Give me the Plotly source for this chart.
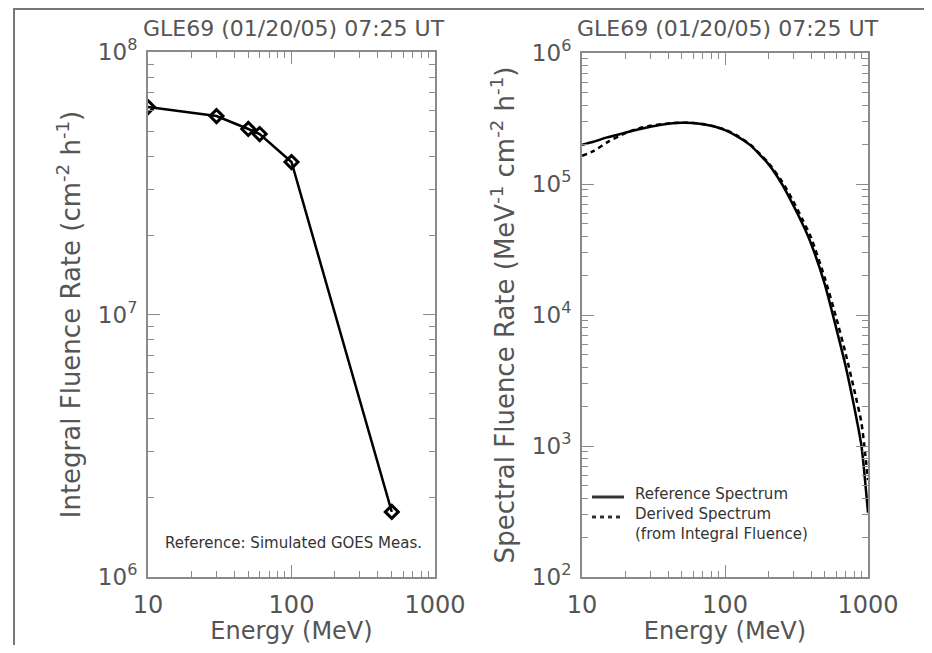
import plotly.graph_objects as go

# ---------------- data ----------------
goes_energy = [10, 30, 50, 60, 100, 500]                      # MeV
integral_rate = [6.17e7, 5.7e7, 5.09e7, 4.87e7, 3.81e7, 1.77e6]  # cm^-2 h^-1

spec_energy = [10, 12, 15, 20, 25, 30, 40, 50, 60, 70, 80, 100, 120, 150,
               200, 250, 300, 350, 400, 500, 600, 700, 800, 900, 1000]
reference_spectrum = [1.99e5, 2.10e5, 2.27e5, 2.46e5, 2.62e5, 2.74e5, 2.88e5,
                      2.93e5, 2.92e5, 2.86e5, 2.78e5, 2.58e5, 2.33e5, 1.98e5,
                      1.43e5, 1.0e5, 6.9e4, 4.9e4, 3.5e4, 1.7e4, 7.9e3, 4.0e3,
                      2.0e3, 1.0e3, 3.1e2]
derived_spectrum = [1.64e5, 1.78e5, 2.08e5, 2.44e5, 2.66e5, 2.78e5, 2.90e5,
                    2.94e5, 2.92e5, 2.87e5, 2.79e5, 2.60e5, 2.36e5, 2.00e5,
                    1.46e5, 1.05e5, 7.4e4, 5.3e4, 3.9e4, 1.9e4, 9.5e3, 5.0e3,
                    2.7e3, 1.5e3, 5.5e2]

title_text = "GLE69 (01/20/05) 07:25 UT"
x_ticks = [10, 100, 1000]
x_ticktext = ["10", "100", "1000"]
left_yticks = [1e6, 1e7, 1e8]
left_yticktext = ["10<sup>6</sup>", "10<sup>7</sup>", "10<sup>8</sup>"]
right_yticks = [1e2, 1e3, 1e4, 1e5, 1e6]
right_yticktext = ["10<sup>2</sup>", "10<sup>3</sup>", "10<sup>4</sup>",
                   "10<sup>5</sup>", "10<sup>6</sup>"]

# ---------------- layout constants ----------------
OFF = 8               # browser body margin
W, H = 932 - OFF, 653 - 2 * OFF
FONT = "DejaVu Sans"
TXT = "#555555"
AX = "#8a8a8a"

def px(x):
    return (x - OFF) / W

def py(y):
    return 1 - (y - OFF) / H

fig = go.Figure()

fig.add_trace(go.Scatter(
    x=goes_energy, y=integral_rate, mode="lines+markers",
    line=dict(color="black", width=2.5),
    marker=dict(symbol="diamond-open", size=10, color="black", line=dict(width=3, color="black")),
    xaxis="x", yaxis="y", showlegend=False, name="Simulated GOES"))

fig.add_trace(go.Scatter(
    x=spec_energy, y=reference_spectrum, mode="lines",
    line=dict(color="black", width=2.5, shape="spline", smoothing=0.6),
    xaxis="x2", yaxis="y2", showlegend=False, name="Reference Spectrum"))

fig.add_trace(go.Scatter(
    x=spec_energy, y=derived_spectrum, mode="lines",
    line=dict(color="black", width=2.5, dash="5px,4px", shape="spline", smoothing=0.6),
    xaxis="x2", yaxis="y2", showlegend=False, name="Derived Spectrum"))

common_x = dict(type="log", tickvals=x_ticks, ticktext=x_ticktext, automargin=False,
                ticks="inside", ticklen=12, tickwidth=1, tickcolor=AX,
                showline=True, linecolor=AX, linewidth=2, mirror="allticks",
                showgrid=False, zeroline=False,
                tickfont=dict(family=FONT, size=24, color=TXT),
                minor=dict(ticks="inside", ticklen=6, tickcolor=AX, tickwidth=1,
                           showgrid=False, dtick="D1"),
                ticklabelstandoff=5,
                title=dict(text="Energy (MeV)", font=dict(family=FONT, size=24, color=TXT), standoff=2))

common_y = dict(type="log", ticks="inside", ticklen=12, tickwidth=1, tickcolor=AX, automargin=False,
                showline=True, linecolor=AX, linewidth=2, mirror="allticks",
                showgrid=False, zeroline=False,
                tickfont=dict(family=FONT, size=23, color=TXT),
                minor=dict(ticks="inside", ticklen=6, tickcolor=AX, tickwidth=1,
                           showgrid=False, dtick="D1"),
                ticklabelstandoff=4)

fig.update_layout(
    width=W, height=H,
    margin=dict(l=0, r=0, t=0, b=0, autoexpand=False),
    paper_bgcolor="white", plot_bgcolor="white",
    xaxis=dict(common_x, domain=[px(148), px(435)], range=[1, 3], anchor="y"),
    yaxis=dict(common_y, domain=[py(577), py(52)], range=[6, 8], anchor="x",
               tickvals=left_yticks, ticktext=left_yticktext,
               title=dict(text="Integral Fluence Rate (cm<sup>-2</sup> h<sup>-1</sup>)",
                          font=dict(family=FONT, size=26, color=TXT), standoff=10)),
    xaxis2=dict(common_x, domain=[px(582), px(868)], range=[1, 3], anchor="y2"),
    yaxis2=dict(common_y, domain=[py(577), py(53)], range=[2, 6], anchor="x2",
                tickvals=right_yticks, ticktext=right_yticktext,
                title=dict(text="Spectral Fluence Rate (MeV<sup>-1</sup> cm<sup>-2</sup> h<sup>-1</sup>)",
                           font=dict(family=FONT, size=26, color=TXT), standoff=10)),
    showlegend=False,
)

def ann(text, x, y, size, color, xanchor="center"):
    return dict(text=text, x=px(x), y=py(y), xref="paper", yref="paper",
                xanchor=xanchor, yanchor="middle", showarrow=False,
                font=dict(family=FONT, size=size, color=color))

annotations = [
    ann(title_text, 294, 29, 22, TXT),
    ann(title_text, 728, 29, 22, TXT),
    ann("Reference: Simulated GOES Meas.", 293, 543, 15, "#333333"),
    ann("Reference Spectrum", 633, 494, 15, "#333333", "left"),
    ann("Derived Spectrum", 633, 514, 15, "#333333", "left"),
    ann("(from Integral Fluence)", 633, 534, 15, "#333333", "left"),
]
fig.update_layout(annotations=annotations)

shapes = [
    # outer frame
    dict(type="rect", xref="paper", yref="paper", x0=px(14), x1=px(927), y0=-0.05, y1=1 - 1 / H,
         line=dict(color="#777777", width=2), fillcolor="rgba(0,0,0,0)", layer="below"),
    # legend samples
    dict(type="line", xref="paper", yref="paper", x0=px(592), x1=px(624), y0=py(497), y1=py(497),
         line=dict(color="#333333", width=3)),
    dict(type="line", xref="paper", yref="paper", x0=px(592), x1=px(624), y0=py(517), y1=py(517),
         line=dict(color="#333333", width=3, dash="4px,4px")),
]
fig.update_layout(shapes=shapes)

fig.write_html("out.html")
